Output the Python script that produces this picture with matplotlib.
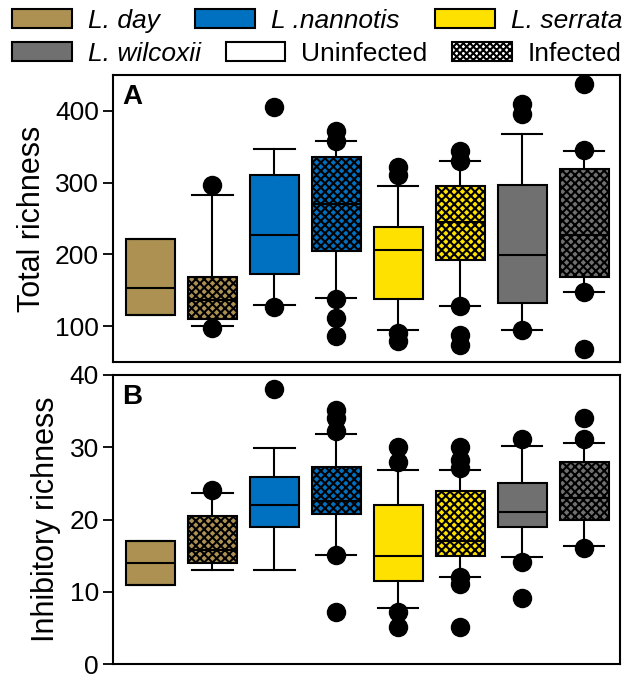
import matplotlib
matplotlib.use('Agg')
import matplotlib.pyplot as plt
from matplotlib.patches import Patch

plt.rcParams['font.family'] = ['Liberation Sans', 'DejaVu Sans']
plt.rcParams['hatch.linewidth'] = 1.5

# species and colours (each species: uninfected box then infected box)
species = ['L. day', 'L .nannotis', 'L. serrata', 'L. wilcoxii']
colors = ['#AD9152', '#0070C0', '#FFE100', '#707070']

# Panel A - total richness (8 boxes: day U/I, nannotis U/I, serrata U/I, wilcoxii U/I)
tot_q1 = [115.7, 109.7, 172, 205, 138, 192, 132, 168]
tot_med = [152.7, 136.5, 226.7, 269.7, 206, 245, 199, 226.7]
tot_q3 = [221.6, 168.4, 310, 336, 238, 294.6, 296.5, 319]
tot_lo = [115.7, 100, 129.6, 138.8, 94, 128, 95, 148]
tot_hi = [221.6, 283, 347, 358, 294.6, 330.7, 367.7, 344.6]
tot_fliers = [[], [296, 98], [405.6, 126], [372, 358, 138, 112, 86.6],
              [322, 310, 90, 79], [344.6, 330.7, 128, 88, 74],
              [409, 395, 94], [437, 345.5, 148, 68]]

# Panel B - inhibitory richness
inh_q1 = [10.9, 14.0, 19.0, 20.8, 11.5, 15.0, 19.0, 19.9]
inh_med = [14.0, 15.8, 22.0, 22.5, 14.9, 17.0, 21.0, 23.0]
inh_q3 = [17.0, 20.5, 25.9, 27.3, 22.0, 23.9, 25.0, 27.9]
inh_lo = [10.9, 13.0, 13.0, 15.1, 7.7, 12.1, 14.8, 16.4]
inh_hi = [17.0, 23.6, 29.9, 31.9, 26.8, 26.8, 30.2, 30.6]
inh_fliers = [[], [24.1], [38.0], [35.2, 34.0, 32.2, 15.1, 7.2],
              [30.1, 28.0, 7.2, 5.1], [30.1, 28.2, 27.1, 12.1, 11.1, 5.1],
              [31.1, 14.1, 9.1], [34.1, 31.1, 16.1]]


def make_stats(q1, med, q3, lo, hi, fl):
    return [dict(q1=a, med=b, q3=c, whislo=d, whishi=e, fliers=f)
            for a, b, c, d, e, f in zip(q1, med, q3, lo, hi, fl)]


def draw(ax, stats, ylim, yticks, ylabel, letter):
    pos = list(range(1, len(stats) + 1))
    bp = ax.bxp(stats, positions=pos, widths=0.79, capwidths=0.65, patch_artist=True,
                showfliers=True,
                boxprops=dict(edgecolor='black', linewidth=1.5),
                medianprops=dict(color='black', linewidth=1.5),
                whiskerprops=dict(color='black', linewidth=1.5),
                capprops=dict(color='black', linewidth=1.5),
                flierprops=dict(marker='o', markerfacecolor='black',
                                markeredgecolor='black', markersize=13))
    for i, box in enumerate(bp['boxes']):
        box.set_facecolor(colors[i // 2])
        if i % 2 == 1:
            box.set_hatch('xxxx')
    ax.set_xlim(0.394, 8.58)
    ax.set_ylim(*ylim)
    ax.set_yticks(yticks)
    ax.set_xticks([])
    ax.tick_params(axis='y', direction='out', length=7, width=1.3, labelsize=19, pad=3)
    for s in ax.spines.values():
        s.set_linewidth(1.5)
    ax.set_ylabel(ylabel, fontsize=22, labelpad=6)
    ax.text(0.018, 0.97, letter, transform=ax.transAxes, fontsize=20,
            fontweight='bold', va='top', ha='left')


fig = plt.figure(figsize=(6.27, 6.78), dpi=100)
axA = fig.add_axes([113 / 627, 1 - 362 / 678, 507 / 627, 287 / 678])
axB = fig.add_axes([113 / 627, 1 - 664 / 678, 507 / 627, 289 / 678])

draw(axA, make_stats(tot_q1, tot_med, tot_q3, tot_lo, tot_hi, tot_fliers),
     (50, 450), [100, 200, 300, 400], 'Total richness', 'A')
draw(axB, make_stats(inh_q1, inh_med, inh_q3, inh_lo, inh_hi, inh_fliers),
     (0, 40), [0, 10, 20, 30, 40], 'Inhibitory richness', 'B')

# legend, two rows spread across the top
row1 = [Patch(facecolor=colors[0], edgecolor='black', linewidth=1.5, label=species[0]),
        Patch(facecolor=colors[1], edgecolor='black', linewidth=1.5, label=species[1]),
        Patch(facecolor=colors[2], edgecolor='black', linewidth=1.5, label=species[2])]
row2 = [Patch(facecolor=colors[3], edgecolor='black', linewidth=1.5, label=species[3]),
        Patch(facecolor='white', edgecolor='black', linewidth=1.5, label='Uninfected'),
        Patch(facecolor='white', edgecolor='black', linewidth=1.5, hatch='xxxxx', label='Infected')]

for handles, yc in [(row1, 21), (row2, 54)]:
    leg = fig.legend(handles=handles, ncol=3, mode='expand', loc='center',
                     bbox_to_anchor=(12 / 627, 1 - yc / 678, 610 / 627, 0),
                     frameon=False, fontsize=19, handlelength=2.27, handleheight=0.72,
                     handletextpad=0.6, borderpad=0, borderaxespad=0, columnspacing=1.0)
    for t in leg.get_texts():
        if t.get_text().startswith('L'):
            t.set_fontstyle('italic')

plt.savefig('out.png', dpi=100)
